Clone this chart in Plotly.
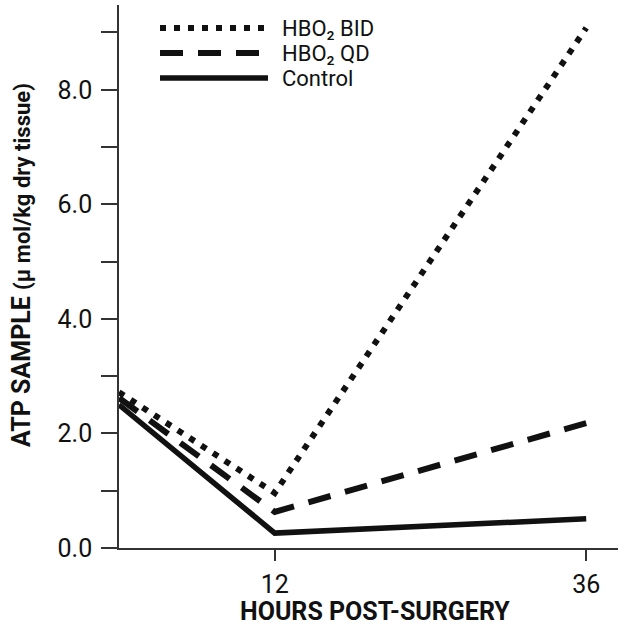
import plotly.graph_objects as go

hours = [0, 12, 36]
bid = [2.72, 0.96, 9.08]
qd = [2.62, 0.63, 2.18]
control = [2.50, 0.26, 0.51]

series_names = ["HBO₂ BID", "HBO₂ QD", "Control"]
y_tick_vals = [0, 2, 4, 6, 8]
y_tick_text = ["0.0", "2.0", "4.0", "6.0", "8.0"]
x_tick_vals = [12, 36]
x_tick_text = ["12", "36"]

FONT = "Roboto, Liberation Sans, sans-serif"
INK = "#111111"

styles = [
    dict(width=6, dash="6px,8px"),
    dict(width=6, dash="23px,15px"),
    dict(width=5.5, dash="solid"),
]

fig = go.Figure()
for name, vals, st in zip(series_names, [bid, qd, control], styles):
    fig.add_trace(go.Scatter(
        x=hours, y=vals, mode="lines", name=name, showlegend=False,
        line=dict(color=INK, width=st["width"], dash=st["dash"]),
    ))

# Manual legend (long line samples as in the original)
PL, PR, PT, PB = 119, 618, 5, 548
def px_x(p):
    return (p - PL) / (PR - PL)
def px_y(p):
    return (PB - p) / (PB - PT)

legend_rows = [28, 53, 78]
for name, st, ry in zip(series_names, styles, legend_rows):
    fig.add_shape(type="line", xref="paper", yref="paper",
                  x0=px_x(160), x1=px_x(268), y0=px_y(ry), y1=px_y(ry),
                  line=dict(color=INK, width=st["width"], dash=st["dash"]))
    fig.add_annotation(x=px_x(281), y=px_y(ry), xref="paper", yref="paper",
                       text=name, showarrow=False, xanchor="left", yanchor="middle",
                       borderpad=0,
                       font=dict(family=FONT, size=22, color=INK))

fig.add_annotation(x=px_x(375), y=px_y(611), xref="paper", yref="paper",
                   text="<b>HOURS POST-SURGERY</b>", showarrow=False,
                   xanchor="center", yanchor="middle",
                   font=dict(family=FONT, size=25, color=INK))
fig.add_annotation(x=px_x(21), y=px_y(265), xref="paper", yref="paper",
                   text="<b>ATP SAMPLE</b> <span style='font-size:22px'><b>(μ mol/kg dry tissue)</b></span>",
                   showarrow=False, textangle=-90, xanchor="center", yanchor="middle",
                   font=dict(family=FONT, size=25, color=INK))

fig.update_layout(
    width=618, height=625,
    margin=dict(l=PL, r=618 - PR, t=PT, b=625 - PB),
    paper_bgcolor="white", plot_bgcolor="white",
    font=dict(family=FONT, color=INK),
    showlegend=False,
)
fig.update_xaxes(
    range=[0, 38.45], tickvals=x_tick_vals, ticktext=x_tick_text,
    showgrid=False, zeroline=False, showline=True, linecolor="#333", linewidth=1.5,
    ticks="outside", ticklen=11, tickwidth=1.5, tickcolor="#333",
    tickfont=dict(family=FONT, size=25, color=INK), ticklabelstandoff=2,
)
fig.update_yaxes(
    range=[0, 9.48], tickvals=y_tick_vals, ticktext=y_tick_text,
    showgrid=False, zeroline=False, showline=True, linecolor="#333", linewidth=1.5,
    ticks="outside", ticklen=16, tickwidth=1.5, tickcolor="#333",
    minor=dict(dtick=1, tick0=0, ticks="outside", ticklen=16, tickwidth=1.5,
               tickcolor="#333", showgrid=False),
    tickfont=dict(family=FONT, size=25, color=INK), ticklabelstandoff=4,
)

fig.write_html("out.html", config={"displayModeBar": False},
               post_script="document.body.style.margin='0';")
